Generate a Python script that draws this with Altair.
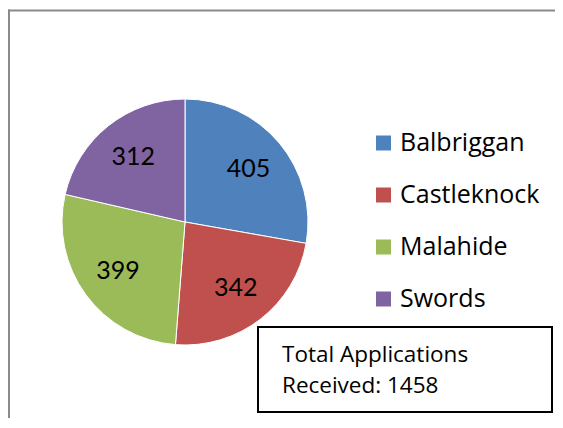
import altair as alt
import pandas as pd

towns = ["Balbriggan", "Castleknock", "Malahide", "Swords"]
applications = [405, 342, 399, 312]
colors = ["#4F81BD", "#C0504D", "#9BBB59", "#8064A2"]
box_lines = ["Total Applications", f"Received: {sum(applications)}"]

df = pd.DataFrame({"town": towns, "applications": applications, "order": list(range(len(towns)))})
one = pd.DataFrame({"k": [0]})

NUM_FONT = "Lato"
TXT_FONT = "Open Sans"
CX, CY, R = 177, 214, 123

color = alt.Color(
    "town:N",
    scale=alt.Scale(domain=towns, range=colors),
    legend=alt.Legend(
        orient="none", legendX=363, legendY=122.5, title=None,
        symbolType="square", symbolSize=225, symbolStrokeWidth=0,
        labelFontSize=25, labelFont=TXT_FONT, labelColor="black",
        rowPadding=26, labelOffset=4, padding=0,
    ),
)

base = alt.Chart(df).encode(
    theta=alt.Theta("applications:Q", stack=True),
    order=alt.Order("order:Q"),
)

pie = base.mark_arc(outerRadius=R, stroke="white", strokeWidth=1, x=CX, y=CY).encode(color=color)
labels = base.mark_text(radius=83, fontSize=25, font=NUM_FONT, color="black", x=CX, y=CY).encode(
    text="applications:Q"
)

frame_top = alt.Chart(one).mark_rule(color="#8a8a8a", strokeWidth=2).encode(
    x=alt.value(0), x2=alt.value(547), y=alt.value(2.5)
)
frame_left = alt.Chart(one).mark_rule(color="#8a8a8a", strokeWidth=2).encode(
    x=alt.value(1), y=alt.value(1.5), y2=alt.value(412)
)

box = alt.Chart(one).mark_rect(fill="white", stroke="black", strokeWidth=2).encode(
    x=alt.value(250), x2=alt.value(544), y=alt.value(319), y2=alt.value(404)
)
box_text = alt.Chart(one).mark_text(
    align="left", baseline="middle", fontSize=22.5, font=TXT_FONT, color="black", lineHeight=31
).encode(x=alt.value(274), y=alt.value(347), text=alt.value(box_lines))

chart = alt.layer(frame_top, frame_left, pie, labels, box, box_text).properties(
    width=547, height=410, padding=0, autosize=alt.AutoSizeParams(type="none")
).configure_view(stroke=None)

chart.save("out.html", embed_options={"renderer": "svg", "actions": False})
